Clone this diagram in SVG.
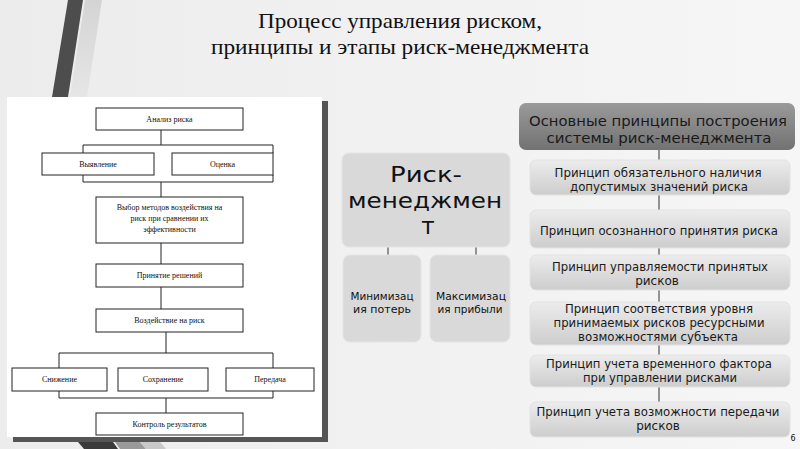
<svg xmlns="http://www.w3.org/2000/svg" width="800" height="449" viewBox="0 0 800 449">
<defs>
<linearGradient id="bg" x1="0" y1="0" x2="1" y2="0">
<stop offset="0" stop-color="#ececec"/>
<stop offset="1" stop-color="#f6f6f6"/>
</linearGradient>
<linearGradient id="hdr" x1="0" y1="0" x2="0" y2="1">
<stop offset="0" stop-color="#9a9a9a"/>
<stop offset="1" stop-color="#727272"/>
</linearGradient>
<linearGradient id="pbox" x1="0" y1="0" x2="0" y2="1">
<stop offset="0" stop-color="#ececec"/>
<stop offset="1" stop-color="#cdcdcd"/>
</linearGradient>
<linearGradient id="lstripe" x1="0" y1="0" x2="0" y2="1">
<stop offset="0" stop-color="#d4d4d4"/>
<stop offset="1" stop-color="#e6e6e6"/>
</linearGradient>
</defs>
<style>
.fc rect{fill:#fff;stroke:#222;stroke-width:1}
.fc text{font-family:"Liberation Serif","Times New Roman",serif;font-size:8px;fill:#111;text-anchor:middle}
.cn{stroke:#222;stroke-width:1;fill:none}
.mid rect{fill:#d9d9d9;stroke:#e4e4e4;stroke-width:1}
.mid text{font-family:"DejaVu Sans",sans-serif;fill:#111;text-anchor:middle}
.pr rect{fill:url(#pbox);stroke:#e2e2e2;stroke-width:1}
.pr text{font-family:"DejaVu Sans",sans-serif;font-size:12px;fill:#1a1a1a;text-anchor:middle}
.title{font-family:"Liberation Serif","Times New Roman",serif;font-size:21px;fill:#111;text-anchor:middle}
.tk{stroke:#333;stroke-width:1}
</style>
<rect x="0" y="0" width="800" height="449" fill="url(#bg)"/>
<!-- decorative stripes -->
<polygon points="85,0 102,0 87,97 70,97" fill="url(#lstripe)"/>
<polygon points="68,0 83,0 68,97 52,97" fill="#4d4d4d"/>
<!-- title -->
<text class="title" x="400" y="28" textLength="284" lengthAdjust="spacingAndGlyphs">Процесс управления риском,</text>
<text class="title" x="400" y="54" textLength="378" lengthAdjust="spacingAndGlyphs">принципы и этапы риск-менеджмента</text>
<!-- left panel -->
<rect x="322" y="101" width="6" height="341" fill="#555"/>
<rect x="13" y="437" width="315" height="5" fill="#555"/>
<rect x="7" y="97" width="315" height="340" fill="#fff"/>
<polygon points="78,442 113,442 118,449 84,449" fill="#3a3a3a"/>
<polygon points="115,442 140,442 146,449 120,449" fill="#9a9a9a"/>
<polygon points="140,442 160,442 166,449 146,449" fill="#c8c8c8"/>
<g id="connectors">
<g class="cn">
<path d="M161,130 V145 M83,145 H273 M83,145 V153 M273,145 V153 M83,175 V182 M273,175 V182 M83,182 H273 M161,182 V197"/>
<path d="M161,243 V264 M161,287 V309"/>
<path d="M166,332 V353 M59,353 H273 M59,353 V368 M273,353 V368 M59,391 V398 M273,391 V398 M59,398 H273 M166,398 V413"/>
</g>
<g class="tk">
<line x1="388" y1="247" x2="388" y2="255"/>
<line x1="476" y1="247" x2="476" y2="255"/>
<line x1="659" y1="150" x2="659" y2="160"/>
<line x1="659" y1="195" x2="659" y2="210"/>
<line x1="659" y1="248" x2="659" y2="255"/>
<line x1="659" y1="290" x2="659" y2="302"/>
<line x1="659" y1="345" x2="659" y2="355"/>
<line x1="659" y1="387" x2="659" y2="402"/>
</g>
</g>
<!-- flowchart nodes -->
<g id="n-analiz" class="fc"><rect x="96" y="108" width="147" height="22"/><text x="169.5" y="122">Анализ риска</text></g>
<g id="n-vyyavlenie" class="fc"><rect x="42" y="153" width="112" height="22"/><text x="98" y="167">Выявление</text></g>
<g id="n-ocenka" class="fc"><rect x="172" y="153" width="101" height="22"/><text x="222.5" y="167">Оценка</text></g>
<g id="n-vybor" class="fc"><rect x="96" y="197" width="147" height="46"/><text x="169.5" y="210">Выбор методов воздействия на</text><text x="169.5" y="221">риск при сравнении их</text><text x="169.5" y="232">эффективности</text></g>
<g id="n-prinyatie" class="fc"><rect x="96" y="264" width="147" height="23"/><text x="169.5" y="278">Принятие решений</text></g>
<g id="n-vozdeystvie" class="fc"><rect x="96" y="309" width="147" height="23"/><text x="169.5" y="323">Воздействие на риск</text></g>
<g id="n-snizhenie" class="fc"><rect x="12" y="368" width="95" height="23"/><text x="59.5" y="382">Снижение</text></g>
<g id="n-sohranenie" class="fc"><rect x="118" y="368" width="90" height="23"/><text x="163" y="382">Сохранение</text></g>
<g id="n-peredacha" class="fc"><rect x="226" y="368" width="88" height="23"/><text x="270" y="382">Передача</text></g>
<g id="n-kontrol" class="fc"><rect x="96" y="413" width="147" height="22"/><text x="169.5" y="427">Контроль результатов</text></g>
<!-- middle -->
<g id="n-riskmgmt" class="mid"><rect x="342" y="153" width="168" height="94" rx="7"/>
<text x="426" y="182" font-size="22" textLength="72" lengthAdjust="spacingAndGlyphs">Риск-</text>
<text x="425" y="208" font-size="22" textLength="154" lengthAdjust="spacingAndGlyphs">менеджмен</text>
<text x="428" y="234" font-size="23">т</text></g>
<g id="n-min" class="mid"><rect x="343" y="255" width="78" height="87" rx="7"/>
<text x="382" y="300" font-size="11" textLength="63" lengthAdjust="spacingAndGlyphs">Минимизац</text>
<text x="382" y="313" font-size="11">ия потерь</text></g>
<g id="n-max" class="mid"><rect x="430" y="255" width="80" height="87" rx="7"/>
<text x="471" y="300" font-size="11" textLength="70" lengthAdjust="spacingAndGlyphs">Максимизац</text>
<text x="470" y="313" font-size="11" textLength="65" lengthAdjust="spacingAndGlyphs">ия прибыли</text></g>
<!-- right column -->
<g id="n-header"><rect x="519" y="103" width="276" height="47" rx="7" fill="url(#hdr)"/>
<text x="658" y="126" font-family="DejaVu Sans,sans-serif" font-size="14" fill="#1a1a1a" text-anchor="middle" textLength="258" lengthAdjust="spacingAndGlyphs">Основные принципы построения</text>
<text x="659" y="143" font-family="DejaVu Sans,sans-serif" font-size="14" fill="#1a1a1a" text-anchor="middle" textLength="225" lengthAdjust="spacingAndGlyphs">системы риск-менеджмента</text></g>
<g id="n-p1" class="pr"><rect x="530" y="160" width="260" height="35" rx="6"/>
<text x="658" y="177" textLength="207" lengthAdjust="spacingAndGlyphs">Принцип обязательного наличия</text>
<text x="659" y="191" textLength="178" lengthAdjust="spacingAndGlyphs">допустимых значений риска</text></g>
<g id="n-p2" class="pr"><rect x="530" y="210" width="260" height="38" rx="6"/>
<text x="659" y="235" textLength="238" lengthAdjust="spacingAndGlyphs">Принцип осознанного принятия риска</text></g>
<g id="n-p3" class="pr"><rect x="530" y="255" width="260" height="35" rx="6"/>
<text x="660" y="271" textLength="216" lengthAdjust="spacingAndGlyphs">Принцип управляемости принятых</text>
<text x="657" y="285">рисков</text></g>
<g id="n-p4" class="pr"><rect x="530" y="302" width="260" height="43" rx="6"/>
<text x="659" y="313" textLength="188" lengthAdjust="spacingAndGlyphs">Принцип соответствия уровня</text>
<text x="659" y="327" textLength="211" lengthAdjust="spacingAndGlyphs">принимаемых рисков ресурсными</text>
<text x="658" y="341" textLength="160" lengthAdjust="spacingAndGlyphs">возможностями субъекта</text></g>
<g id="n-p5" class="pr"><rect x="530" y="355" width="260" height="32" rx="6"/>
<text x="659" y="368" textLength="226" lengthAdjust="spacingAndGlyphs">Принцип учета временного фактора</text>
<text x="660" y="382" textLength="154" lengthAdjust="spacingAndGlyphs">при управлении рисками</text></g>
<g id="n-p6" class="pr"><rect x="530" y="402" width="260" height="35" rx="6"/>
<text x="658" y="416" textLength="243" lengthAdjust="spacingAndGlyphs">Принцип учета возможности передачи</text>
<text x="658" y="430">рисков</text></g>
<text x="793" y="441" font-family="DejaVu Sans,sans-serif" font-size="8" fill="#111" text-anchor="middle">6</text>
</svg>
